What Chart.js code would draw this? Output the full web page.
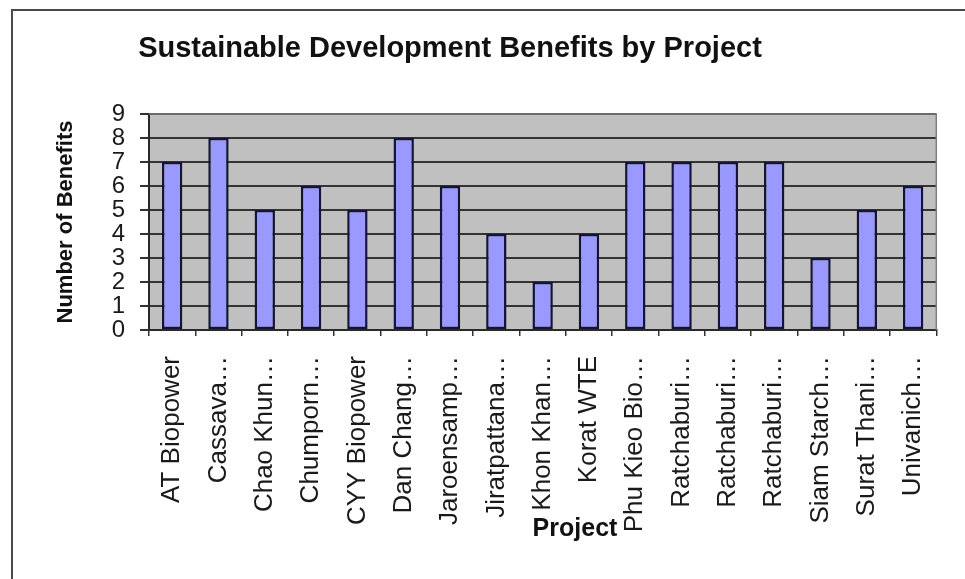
<!DOCTYPE html>
<html>
<head>
<meta charset="utf-8">
<title>Sustainable Development Benefits by Project</title>
<script src="https://cdn.jsdelivr.net/npm/chart.js@4.4.1/dist/chart.umd.min.js"></script>
<style>
  html, body { margin: 0; padding: 0; background: #ffffff; }
  canvas { display: block; }
</style>
</head>
<body>
<canvas id="chart" width="965" height="579"></canvas>
<script>
// Project names (long names are shortened with an ellipsis on the axis)
const projects = [
  'AT Biopower', 'Cassava…', 'Chao Khun…', 'Chumporn…', 'CYY Biopower',
  'Dan Chang…', 'Jaroensamp…', 'Jiratpattana…', 'Khon Khan…', 'Korat WTE',
  'Phu Kieo Bio…', 'Ratchaburi…', 'Ratchaburi…', 'Ratchaburi…',
  'Siam Starch…', 'Surat Thani…', 'Univanich…'
];

// Number of sustainable development benefits claimed by each project
const benefits = [7, 8, 5, 6, 5, 8, 6, 4, 2, 4, 7, 7, 7, 7, 3, 5, 6];

// Value-axis tick labels
const yTickValues = [0, 1, 2, 3, 4, 5, 6, 7, 8, 9];

const chartTitle = 'Sustainable Development Benefits by Project';
const yAxisTitle = 'Number of Benefits';
const xAxisTitle = 'Project';

// Outer frame, grey plot area and the text placed around the plot
const decorations = {
  id: 'decorations',
  beforeDraw(chart) {
    const { ctx, chartArea: a } = chart;
    ctx.save();
    ctx.fillStyle = '#ffffff';
    ctx.fillRect(0, 0, chart.width, chart.height);
    ctx.strokeStyle = '#4a4a4a';
    ctx.lineWidth = 2;
    ctx.strokeRect(12, 10, chart.width + 20, chart.height + 20);
    ctx.fillStyle = '#c0c0c0';
    ctx.fillRect(a.left, a.top, a.right - a.left, a.bottom - a.top);
    ctx.restore();
  },
  afterDraw(chart) {
    const { ctx, chartArea: a } = chart;
    ctx.save();
    ctx.strokeStyle = '#7f7f7f';
    ctx.lineWidth = 1.5;
    ctx.beginPath();
    ctx.moveTo(a.left, a.top);
    ctx.lineTo(a.right, a.top);
    ctx.lineTo(a.right, a.bottom);
    ctx.stroke();

    ctx.fillStyle = '#111111';
    ctx.textAlign = 'center';
    ctx.textBaseline = 'alphabetic';
    ctx.font = 'bold 29px "Liberation Sans", Arial, sans-serif';
    ctx.fillText(chartTitle, 450, 57);
    ctx.font = 'bold 25px "Liberation Sans", Arial, sans-serif';
    ctx.fillText(xAxisTitle, 575, 536);
    ctx.restore();
  }
};

new Chart(document.getElementById('chart'), {
  type: 'bar',
  data: {
    labels: projects,
    datasets: [{
      label: yAxisTitle,
      data: benefits,
      backgroundColor: '#9999ff',
      borderColor: '#14143a',
      borderWidth: 2.5,
      borderSkipped: false,
      barPercentage: 0.44,
      categoryPercentage: 1.0
    }]
  },
  options: {
    responsive: false,
    animation: false,
    devicePixelRatio: 1,
    layout: { padding: { top: 114, right: 23, bottom: 0, left: 0 } },
    plugins: {
      legend: { display: false },
      title: { display: false },
      tooltip: { enabled: false }
    },
    scales: {
      x: {
        offset: true,
        grid: {
          offset: true,
          drawOnChartArea: false,
          drawTicks: true,
          tickLength: 6,
          color: '#333333',
          lineWidth: 1.5
        },
        border: { color: '#2a2a2a', width: 2 },
        ticks: {
          autoSkip: false,
          minRotation: 90,
          maxRotation: 90,
          padding: 20,
          color: '#1a1a1a',
          font: { family: '"Liberation Sans", Arial, sans-serif', size: 26 }
        },
        afterFit(scale) { scale.height = 249; }
      },
      y: {
        min: 0,
        max: 9,
        afterBuildTicks(scale) {
          scale.ticks = yTickValues.map(v => ({ value: v }));
        },
        grid: {
          color: '#333333',
          lineWidth: 2,
          drawTicks: true,
          tickLength: 9,
          tickColor: '#333333'
        },
        border: { color: '#2a2a2a', width: 2 },
        ticks: {
          autoSkip: false,
          padding: 15,
          color: '#1a1a1a',
          font: { family: '"Liberation Sans", Arial, sans-serif', size: 24 }
        },
        title: {
          display: true,
          text: yAxisTitle,
          color: '#111111',
          padding: { top: 53, bottom: 0 },
          font: { family: '"Liberation Sans", Arial, sans-serif', size: 22, weight: 'bold' }
        },
        afterFit(scale) { scale.width = 149; }
      }
    }
  },
  plugins: [decorations]
});
</script>
</body>
</html>
